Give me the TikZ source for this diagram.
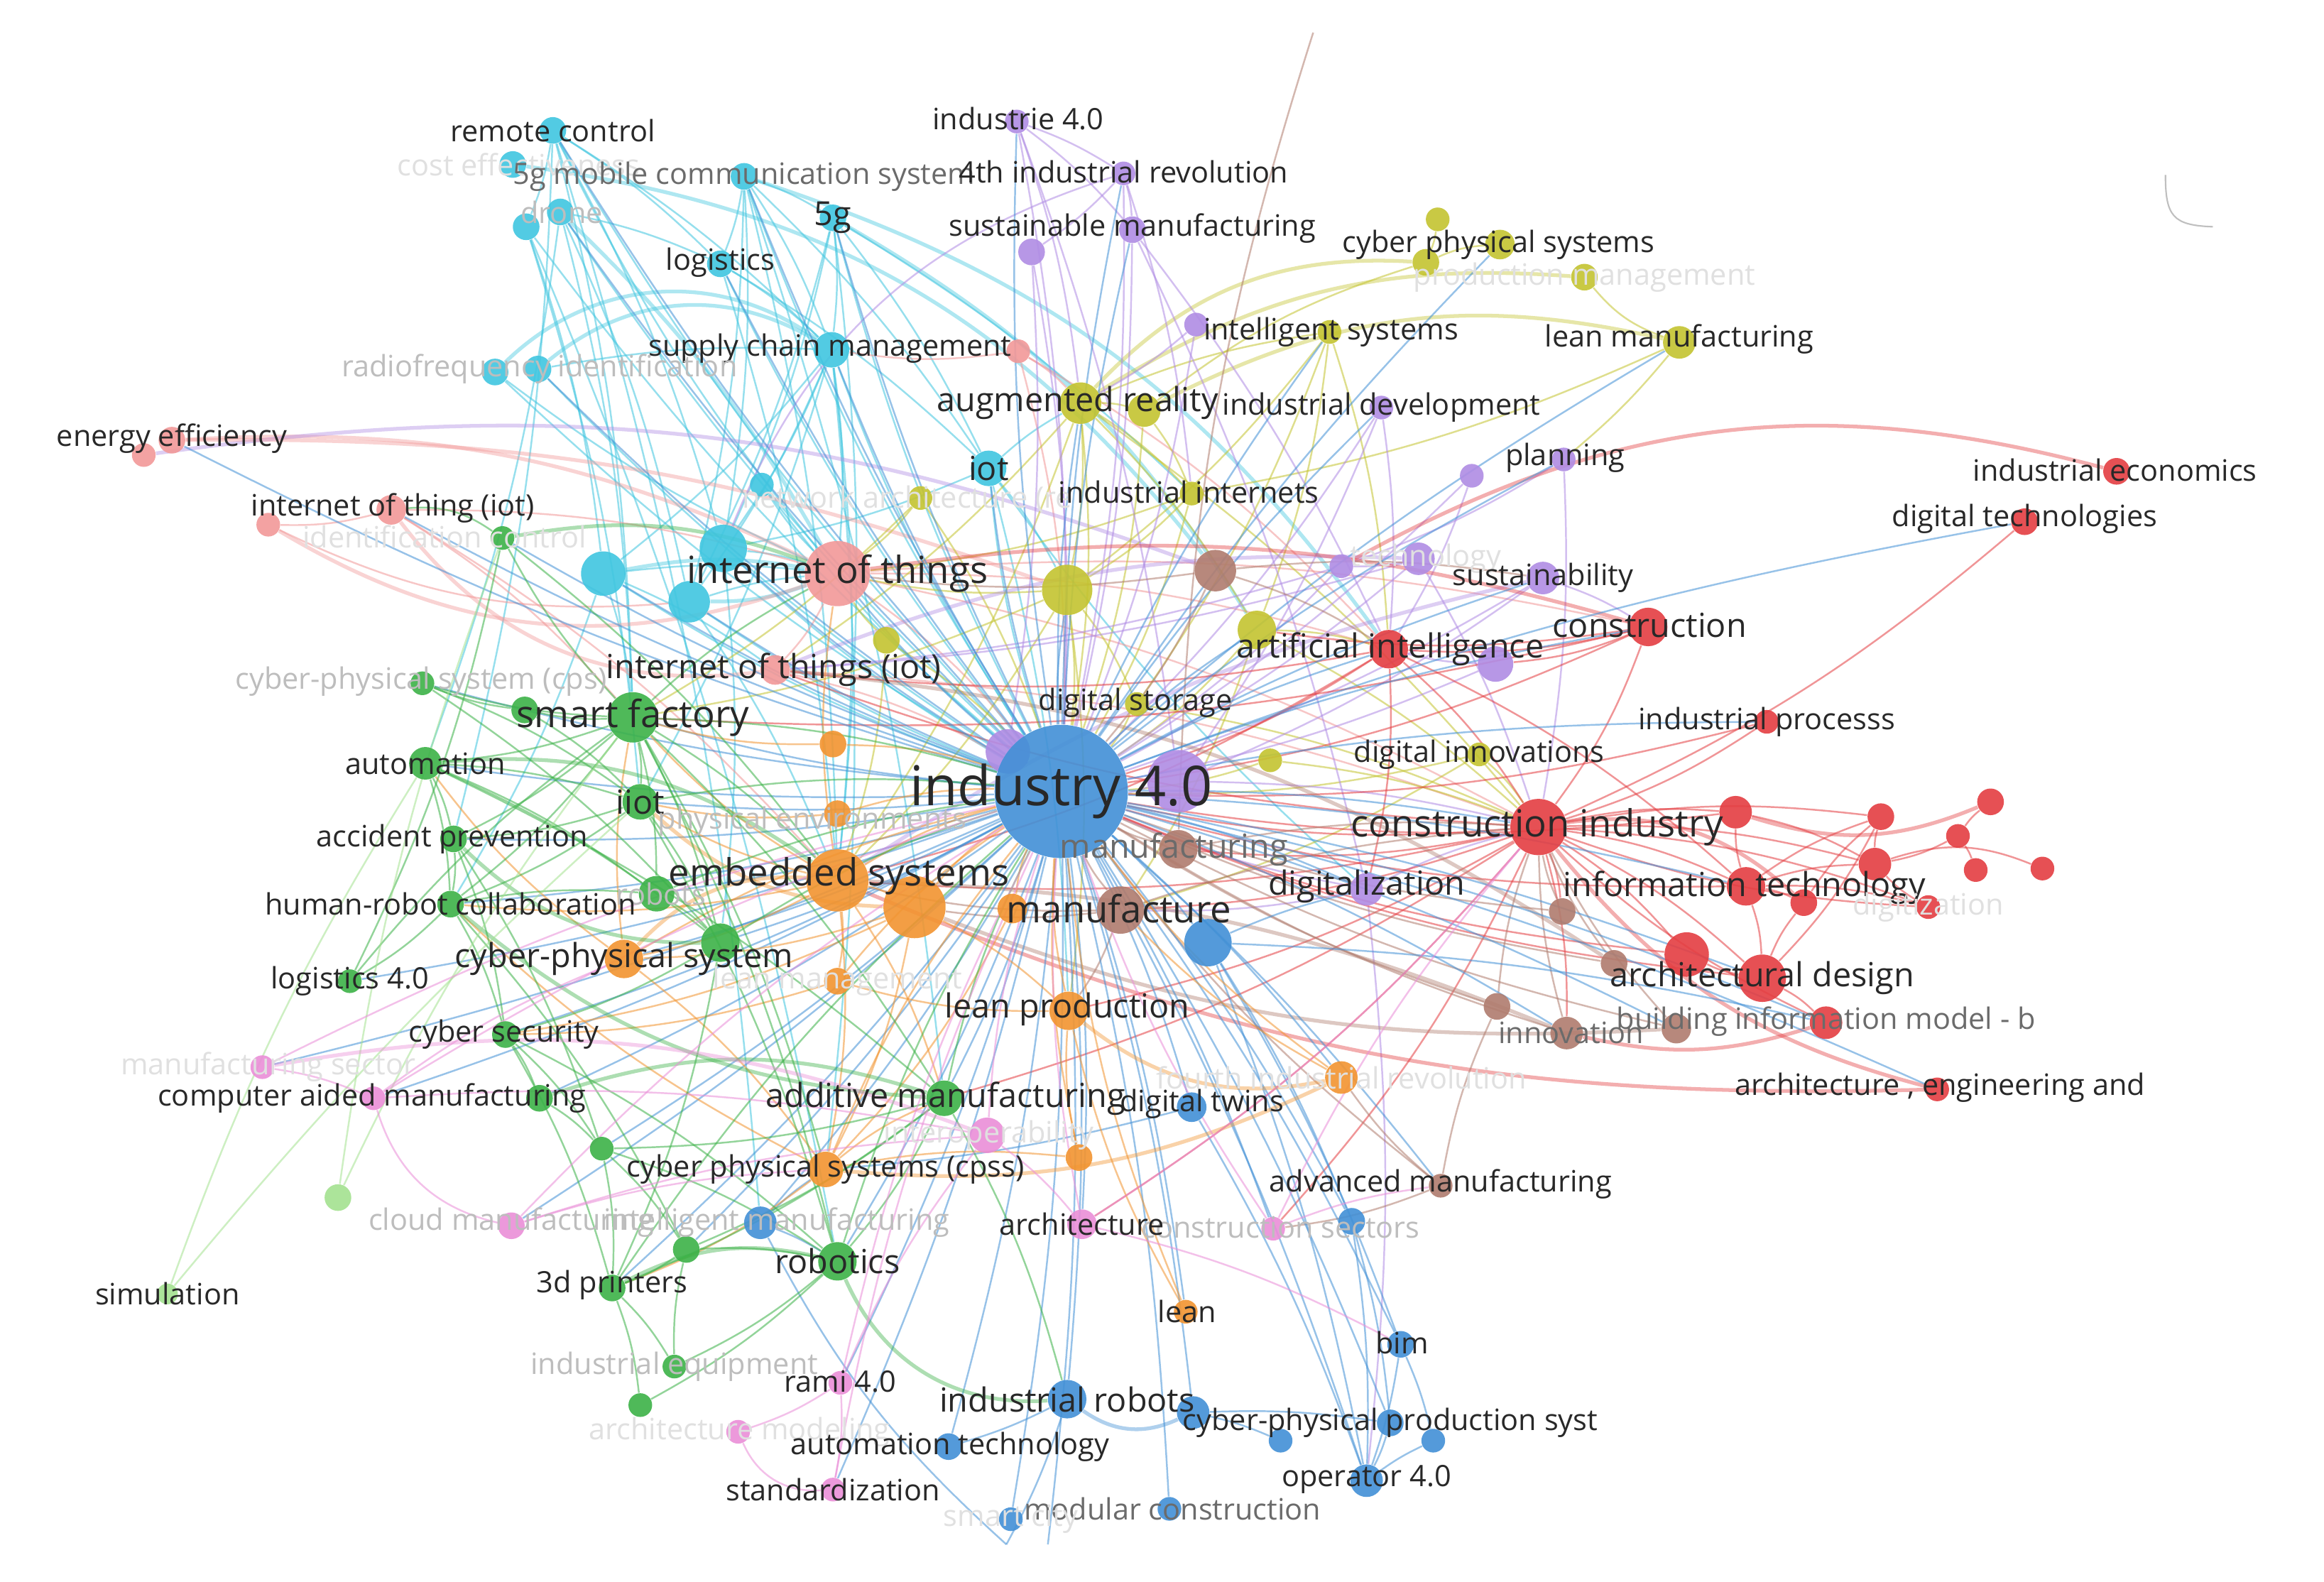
\documentclass[tikz,border=0pt]{standalone}
\usepackage{fontspec}
\setmainfont{Open Sans}
\pgfdeclarelayer{edgelayer}
\pgfdeclarelayer{labellayer}
\pgfsetlayers{edgelayer,main,labellayer}
\definecolor{cCy}{RGB}{64,198,224}
\definecolor{cSa}{RGB}{242,152,152}
\definecolor{cOl}{RGB}{196,196,48}
\definecolor{cPu}{RGB}{176,140,228}
\definecolor{cRd}{RGB}{228,62,66}
\definecolor{cBr}{RGB}{176,124,110}
\definecolor{cBl}{RGB}{66,144,214}
\definecolor{cOr}{RGB}{242,148,48}
\definecolor{cGr}{RGB}{60,178,72}
\definecolor{cPk}{RGB}{234,142,216}
\definecolor{cLg}{RGB}{164,226,144}
\definecolor{txt}{RGB}{40,40,40}
\tikzset{
  kdot/.style={circle,inner sep=0pt,draw=none,fill opacity=0.9},
  klab/.style={inner sep=0pt,text=txt,font=\fontsize{11.8}{13}\selectfont},
  s2/.style={font=\fontsize{13.3}{15}\selectfont},
  s3/.style={font=\fontsize{15}{17}\selectfont},
  s4/.style={font=\fontsize{22}{24}\selectfont},
  fa/.style={text=black!12},
  fl/.style={text=black!26},
  se/.style={text=black!58},
  ed/.style={draw=#1,draw opacity=0.55,line width=0.7pt},
  edw/.style={draw=#1,draw opacity=0.42,line width=1.5pt}
}
\newcommand\kwdot[5]{\node[kdot,minimum size={2*#4*0.5935pt},fill=#5] (#1) at (#2,#3) {};}
\newcommand\kwlab[5]{\begin{pgfonlayer}{labellayer}\node[klab,#4] (#1-l) at (#2,#3) {#5};\end{pgfonlayer}}
\begin{document}
\begin{tikzpicture}[x=0.020874cm,y=-0.020874cm]
\useasboundingbox (0,0) rectangle (1568,1067);
\begin{pgfonlayer}{edgelayer}
\fill[white] (0,0) rectangle (1568,1067);
\end{pgfonlayer}
% ---------- nodes ----------
% cyan
\kwdot{rc}{373}{88}{9}{cCy}
\kwdot{ce}{346}{111}{9}{cCy}
\kwdot{mcs}{502}{119}{9}{cCy}
\kwdot{dr}{378}{143}{9}{cCy}
\kwdot{dr2}{355}{153}{9}{cCy}
\kwdot{g5}{562}{147}{9}{cCy}
\kwdot{lg}{486}{178}{9}{cCy}
\kwdot{scm}{561}{236}{12}{cCy}
\kwdot{rf1}{334}{251}{9}{cCy}
\kwdot{rf}{363}{249}{9}{cCy}
\kwdot{iot}{667}{316}{12}{cCy}
\kwdot{na}{514}{327}{8}{cCy}
\kwdot{cb1}{488}{370}{16}{cCy}
\kwdot{cb2}{407}{387}{15}{cCy}
\kwdot{cb3}{465}{406}{14}{cCy}
% salmon
\kwdot{ee}{116}{297}{9}{cSa}
\kwdot{ee2}{97}{307}{8}{cSa}
\kwdot{iotg}{264}{344}{10}{cSa}
\kwdot{ic}{181}{354}{8}{cSa}
\kwdot{scmp}{687}{237}{8}{cSa}
\kwdot{ioth}{565}{387}{22}{cSa}
\kwdot{iotq}{523}{452}{10}{cSa}
% olive
\kwdot{ar}{729}{272}{14}{cOl}
\kwdot{ar2}{772}{277}{11}{cOl}
\kwdot{cps1}{970}{148}{8}{cOl}
\kwdot{cps2}{962}{177}{9}{cOl}
\kwdot{cps}{1012}{165}{10}{cOl}
\kwdot{pm}{1069}{187}{9}{cOl}
\kwdot{lm}{1133}{231}{11}{cOl}
\kwdot{is}{897}{224}{8}{cOl}
\kwdot{ii}{804}{333}{8}{cOl}
\kwdot{y1}{621}{336}{8}{cOl}
\kwdot{y2}{720}{398}{17}{cOl}
\kwdot{y3}{598}{432}{9}{cOl}
\kwdot{y4}{848}{425}{13}{cOl}
\kwdot{ds}{767}{475}{8}{cOl}
\kwdot{y5}{857}{513}{8}{cOl}
\kwdot{di}{998}{509}{8}{cOl}
% purple
\kwdot{ie}{686}{82}{8}{cPu}
\kwdot{fir}{758}{117}{8}{cPu}
\kwdot{sm1}{696}{170}{9}{cPu}
\kwdot{sm}{764}{155}{9}{cPu}
\kwdot{p1}{807}{219}{8}{cPu}
\kwdot{id}{932}{275}{8}{cPu}
\kwdot{pl1}{993}{321}{8}{cPu}
\kwdot{pl}{1055}{310}{8}{cPu}
\kwdot{tech}{957}{377}{11}{cPu}
\kwdot{p2}{905}{382}{8}{cPu}
\kwdot{sus}{1041}{390}{11}{cPu}
\kwdot{p3}{1009}{448}{12}{cPu}
\kwdot{p4}{795}{527}{21}{cPu}
\kwdot{p5}{680}{507}{15}{cPu}
\kwdot{dig}{922}{600}{11}{cPu}
% red
\kwdot{iec}{1428}{318}{9}{cRd}
\kwdot{dt}{1366}{352}{9}{cRd}
\kwdot{con}{1112}{423}{13}{cRd}
\kwdot{ai}{937}{438}{13}{cRd}
\kwdot{ip}{1192}{487}{8}{cRd}
\kwdot{ci}{1038}{558}{19}{cRd}
\kwdot{r1}{1171}{548}{11}{cRd}
\kwdot{r2}{1269}{551}{9}{cRd}
\kwdot{r3}{1343}{541}{9}{cRd}
\kwdot{r4}{1321}{564}{8}{cRd}
\kwdot{r5}{1378}{586}{8}{cRd}
\kwdot{r6}{1333}{587}{8}{cRd}
\kwdot{r7}{1265}{583}{11}{cRd}
\kwdot{r8}{1217}{609}{9}{cRd}
\kwdot{it}{1178}{598}{13}{cRd}
\kwdot{dgz}{1301}{612}{8}{cRd}
\kwdot{r9}{1138}{644}{15}{cRd}
\kwdot{ad}{1189}{660}{16}{cRd}
\kwdot{bim2}{1232}{690}{11}{cRd}
\kwdot{aec}{1307}{735}{8}{cRd}
% brown
\kwdot{b1}{820}{385}{14}{cBr}
\kwdot{mfg}{795}{573}{13}{cBr}
\kwdot{mf}{756}{614}{16}{cBr}
\kwdot{b2}{1054}{615}{9}{cBr}
\kwdot{b3}{1089}{650}{9}{cBr}
\kwdot{b4}{1010}{679}{9}{cBr}
\kwdot{inn}{1057}{697}{11}{cBr}
\kwdot{b5}{1131}{694}{10}{cBr}
\kwdot{am}{972}{800}{8}{cBr}
% orange
\kwdot{o1}{562}{502}{9}{cOr}
\kwdot{pe}{565}{549}{9}{cOr}
\kwdot{es}{565}{594}{21}{cOr}
\kwdot{o2}{617}{612}{21}{cOr}
\kwdot{o3}{683}{613}{10}{cOr}
\kwdot{cpsy}{421}{647}{13}{cOr}
\kwdot{lmg}{565}{662}{9}{cOr}
\kwdot{lp}{721}{682}{13}{cOr}
\kwdot{fir2}{905}{727}{11}{cOr}
\kwdot{cpss}{557}{789}{12}{cOr}
\kwdot{o4}{728}{781}{9}{cOr}
\kwdot{ln}{800}{885}{8}{cOr}
% green
\kwdot{g1}{339}{363}{8}{cGr}
\kwdot{cpsc}{285}{461}{8}{cGr}
\kwdot{sf1}{354}{479}{9}{cGr}
\kwdot{sf}{427}{484}{17}{cGr}
\kwdot{au}{287}{515}{11}{cGr}
\kwdot{iiot}{432}{541}{12}{cGr}
\kwdot{ap}{306}{566}{9}{cGr}
\kwdot{hrc}{304}{610}{9}{cGr}
\kwdot{rob}{443}{603}{12}{cGr}
\kwdot{g2}{486}{636}{13}{cGr}
\kwdot{l40}{236}{662}{8}{cGr}
\kwdot{cs}{341}{698}{9}{cGr}
\kwdot{cam}{364}{741}{9}{cGr}
\kwdot{adm}{637}{741}{12}{cGr}
\kwdot{g3}{406}{775}{8}{cGr}
\kwdot{lg1}{228}{808}{9}{cLg}
\kwdot{g4}{463}{843}{9}{cGr}
\kwdot{robo}{565}{851}{13}{cGr}
\kwdot{p3d}{413}{869}{9}{cGr}
\kwdot{ieq}{455}{922}{8}{cGr}
\kwdot{g5n}{432}{948}{8}{cGr}
\kwdot{sim}{113}{873}{7}{cLg}
% pink
\kwdot{ms}{177}{720}{8}{cPk}
\kwdot{camp}{252}{741}{8}{cPk}
\kwdot{cm}{345}{827}{9}{cPk}
\kwdot{io}{666}{766}{12}{cPk}
\kwdot{arc}{730}{826}{10}{cPk}
\kwdot{cse}{859}{829}{8}{cPk}
\kwdot{rami}{567}{933}{8}{cPk}
\kwdot{amod}{498}{966}{8}{cPk}
\kwdot{std}{562}{1005}{8}{cPk}
% blue
\kwdot{bl1}{815}{636}{16}{cBl}
\kwdot{dtw}{804}{747}{10}{cBl}
\kwdot{im}{513}{825}{11}{cBl}
\kwdot{bl2}{912}{824}{9}{cBl}
\kwdot{bim}{945}{907}{9}{cBl}
\kwdot{ir}{720}{944}{13}{cBl}
\kwdot{bl3}{805}{953}{11}{cBl}
\kwdot{cpp}{938}{960}{9}{cBl}
\kwdot{bl4}{864}{972}{8}{cBl}
\kwdot{bl5}{967}{972}{8}{cBl}
\kwdot{at}{640}{976}{9}{cBl}
\kwdot{op}{922}{999}{11}{cBl}
\kwdot{mc}{789}{1018}{8}{cBl}
\kwdot{sc}{682}{1025}{8}{cBl}
\kwdot{i40}{716}{534}{45}{cBl}
\coordinate (offt) at (886,22);
\coordinate (offb1) at (707,1042);
\coordinate (offb2) at (679,1042);
% ---------- edges ----------
\begin{pgfonlayer}{edgelayer}
% cyan
\foreach \a/\b in {rc/dr2,rc/lg,rc/scm,rc/cb1,mcs/scm,mcs/g5,mcs/lg,mcs/cb1,mcs/cb3,g5/scm,g5/cb1,g5/cb3,lg/scm,dr/cb3,dr2/cb2,scm/cb1,scm/cb2,scm/cb3,rf/scm,iot/cb1,cb1/ioth,cb2/ioth,cb3/ioth,cb2/sf,cb3/es,cb2/iotq,dr/lg,mcs/iot,g5/iot,lg/iot,scm/ioth,g5/ii,rc/im,dr2/robo,mcs/adm,scm/cpss,iot/lp,rc/sf,dr2/iiot,dr/sf,mcs/es,lg/es,g5/es,scm/es,scm/iiot,rc/ap,dr/au,cb2/hrc,cb1/g2,iot/ar,iot/y2}
  {\draw[ed=cCy] (\a) to[bend left=6] (\b);}
\foreach \a/\b in {mcs/i40,g5/i40,lg/i40,dr/i40,scm/i40,rf/i40,iot/i40,na/i40,cb1/i40,cb2/i40,cb3/i40,rc/i40,rf1/ioth,rc/ioth,iot/dig,na/ioth,dr2/i40,rf1/i40}
  {\draw[ed=cCy] (\a) to[bend right=6] (\b);}
\draw[edw=cCy] (rf1) to[bend left=40] (scm);
\draw[edw=cCy] (rf) to[bend left=35] (scm);
\draw[edw=cCy] (ce) to[bend left=22] (b1);
\draw[edw=cCy] (dr) to[bend left=8] (ioth);
\draw[edw=cCy] (g5) to[bend left=14] (y4);
\draw[edw=cCy] (mcs) to[bend left=18] (ai);
\draw[edw=cCy] (cb2) to[bend left=10] (ioth);
\draw[edw=cCy] (cb3) to[bend right=10] (ioth);
% salmon
\foreach \a/\b in {iotg/ioth,iotg/ic,iotg/es,ioth/i40,ioth/iotq,ioth/ai,ioth/con,scmp/ar,scmp/ai,iotq/i40,iotq/ci,ioth/ci,scmp/i40,iotg/sf,scmp/scm}
  {\draw[ed=cSa] (\a) to[bend left=8] (\b);}
\draw[edw=cSa] (ee) to[bend left=14] (ioth);
\draw[edw=cSa] (ic) to[bend right=25] (ioth);
\draw[edw=cSa] (iotg) to[bend right=30] (iotq);
\draw[ed=cSa] (ic) to[bend right=15] (cb3);
\draw[edw=cPu] (ee2) to[bend left=14] (b1);
\draw[edw=cSa] (ee) to[bend left=10] (y2);
% olive
\foreach \a/\b in {ar/i40,ar/ar2,ar/is,ar/y2,ar/ii,ar/ci,ar/y4,ar2/i40,ar2/ii,cps1/cps2,is/ai,is/y2,is/y4,ii/i40,ii/y2,y1/i40,y1/ioth,y2/i40,y2/ioth,y2/ds,y3/i40,y3/ioth,y4/i40,y4/ci,y4/ai,ds/i40,y5/i40,y5/ci,di/ci,di/i40,y2/es,ar/es,y2/sf,ds/ci,ar/iotq,y2/lp,y3/es,is/ds,lm/ii,y1/sf,y4/mf,di/mf,ii/ioth}
  {\draw[ed=cOl] (\a) to[bend left=7] (\b);}
\draw[edw=cOl] (ar) to[bend left=25] (cps2);
\draw[edw=cOl] (ar) to[bend left=18] (pm);
\draw[ed=cOl] (cps2) to[bend left=10] (cps);
\draw[ed=cOl] (pm) to[bend right=15] (lm);
\draw[ed=cOl] (lm) to[bend left=5] (pl);
\draw[edw=cOl] (ar2) to[bend left=20] (lm);
\draw[ed=cOl] (cps2) to[bend right=10] (ar2);
% purple
\foreach \a/\b in {ie/fir,ie/sm,ie/i40,ie/p4,fir/sm1,fir/sm,fir/i40,sm/i40,sm/ai,sm1/i40,sm1/p5,p1/i40,p1/ar,id/i40,id/p4,id/ai,pl1/i40,pl/p2,pl/ci,tech/p2,tech/i40,tech/ci,p2/i40,sus/i40,sus/p4,sus/con,p3/ai,p3/i40,p4/i40,p5/i40,dig/i40,dig/ci,dig/mf,p4/ci,ie/ar,fir/ii,p2/iotq,pl1/ai,tech/iotq,sm/dig}
  {\draw[ed=cPu] (\a) to[bend left=6] (\b);}
\draw[ed=cPu] (fir) to[bend right=25] (cb1);
\draw[ed=cPu] (dig) to[bend left=6] (op);
\draw[edw=cPu] (sus) to[bend right=10] (es);
\draw[edw=cPu] (tech) to[bend right=12] (iotq);
% red
\foreach \a/\b in {dt/ci,con/ai,con/ci,con/i40,con/y4,ai/i40,ai/ci,ai/it,ai/iotq,ip/ci,ip/i40,ci/i40,ci/r1,ci/it,ci/r9,ci/ad,ci/mf,ci/r2,ci/r7,ci/dgz,ci/b2,ci/inn,ci/mfg,ci/lp,ci/iotq,it/r1,it/r2,it/r7,it/r8,it/ad,it/dgz,r7/r2,r4/r3,r4/r6,r4/r7,r1/r7,ad/r9,ad/bim2,ad/r8,bim2/ci,r9/i40,it/i40,ad/i40,ci/arc,ci/cse,ci/es,ci/adm,dgz/r7,r8/r2,r2/ad,ai/dig,con/p3,r1/i40,dgz/ci,ai/es,con/sf}
  {\draw[ed=cRd] (\a) to[bend left=8] (\b);}
\draw[edw=cRd] (iec) to[bend right=22] (p2);
\draw[edw=cRd] (con) to[bend right=12] (ioth);
\draw[edw=cRd] (aec) to[bend left=18] (ci);
\draw[edw=cRd] (aec) to[bend left=12] (es);
\draw[edw=cRd] (bim2) to[bend left=15] (inn);
\draw[edw=cRd] (ci) to[bend left=25] (r8);
\draw[edw=cRd] (r1) to[bend right=20] (r3);
\draw[ed=cRd] (r7) to[bend left=20] (r5);
% brown
\foreach \a/\b in {b1/i40,b1/ai,b1/ioth,mfg/i40,mfg/ci,mf/i40,mf/ci,mf/es,mf/lp,b2/ci,b3/ci,b4/ci,inn/ci,inn/i40,b5/ci,am/b4,am/i40,am/cse,b5/i40,b3/i40,b4/i40,b1/sus,mf/o2,am/fir2,b2/i40}
  {\draw[ed=cBr] (\a) to[bend left=7] (\b);}
\draw[edw=cBr] (inn) to[bend right=10] (es);
\draw[edw=cBr] (b5) to[bend left=12] (o2);
\draw[edw=cBr] (b3) to[bend right=14] (iotq);
\draw[ed=cBr] (offt) to[bend right=8] (mfg);
% blue
\foreach \a/\b in {i40/bl1,i40/dtw,i40/im,i40/bl2,i40/bim,i40/ir,i40/bl3,i40/cpp,i40/at,i40/op,i40/mc,i40/sc,bl1/bim,bl1/bl2,bl1/op,ir/at,bl3/cpp,bl3/bl4,cpp/op,bim/op,bim/bl5,op/bl5,bl2/op,im/cpss,im/robo,i40/offb1,ir/offb2,i40/ln,i40/ar,i40/cs,i40/camp,i40/au,i40/hrc,i40/ap,i40/l40,i40/g3,i40/p3d,i40/g4,i40/mcs,i40/sm,i40/id,i40/pl,i40/sus,i40/dig,i40/ci,i40/it,i40/ad,i40/bim2,i40/con,i40/inn,i40/b5,i40/am,i40/fir2,i40/cse,i40/arc,i40/std,i40/rami,i40/cm,i40/ms,i40/sf,i40/cpsc,i40/g1,i40/iotg,i40/rc,i40/scm,i40/iot,i40/rf,bl1/dig,dtw/cpss,i40/ai,i40/lm,i40/is,i40/cps,i40/ip,i40/dt,i40/aec,i40/ioth,i40/cb2,i40/iiot,i40/cpsy,i40/robo,i40/adm,i40/ie,i40/fir,i40/g5,i40/lg,i40/dr,i40/ee,dtw/op,bl1/bim2,bl2/cpp,i40/rob,i40/g2,i40/cam,i40/cb1,i40/cb3,i40/y2,i40/y4}
  {\draw[ed=cBl] (\a) to[bend left=5] (\b);}
\draw[edw=cBl] (ir) to[bend right=30] (bl3);
\draw[ed=cBl] (im) to[bend right=10] (offb2);
% orange
\foreach \a/\b in {o1/i40,pe/i40,es/i40,o2/i40,o3/i40,cpsy/i40,lmg/i40,lp/i40,fir2/i40,cpss/i40,o4/i40,ln/i40,es/o2,es/cpsy,es/sf,es/iiot,es/ioth,es/lmg,es/cpss,o2/cpsy,o2/lp,o2/cpss,cpsy/cpss,cpsy/sf,lp/lmg,fir2/mf,cpss/o4,cpss/adm,cpss/p3d,o4/lp,ln/lp,cpss/hrc,es/adm,o1/sf,pe/iiot,cpsy/au,es/hrc,lmg/cs,o3/cpss,o2/cs}
  {\draw[ed=cOr] (\a) to[bend left=8] (\b);}
\draw[edw=cOr] (fir2) to[bend left=25] (lp);
\draw[edw=cOr] (fir2) to[bend left=15] (cpss);
\draw[edw=cOr] (es) to[bend right=25] (cpsy);
\draw[edw=cOr] (o2) to[bend left=20] (iiot);
% green
\foreach \a/\b in {sf/i40,sf/sf1,sf/au,sf/iiot,sf/g1,sf/cpsc,sf/es,sf/hrc,sf/rob,sf/g2,sf/ioth,sf/adm,sf/robo,sf/ap,sf1/cpsc,g1/l40,au/iiot,au/ap,au/hrc,au/rob,au/adm,iiot/i40,iiot/ap,iiot/hrc,iiot/g2,ap/hrc,ap/cs,hrc/rob,hrc/l40,hrc/cs,rob/i40,rob/g2,g2/i40,g2/cs,g2/p3d,l40/sf,cs/cam,cs/g3,cs/p3d,adm/i40,adm/g3,adm/robo,adm/p3d,adm/g4,g3/g4,g3/p3d,g4/robo,g4/p3d,robo/i40,robo/ieq,robo/g5n,p3d/ieq,p3d/g5n,p3d/i40,ieq/g4,adm/ir,au/g2,iiot/robo,cpsc/g2,g1/es,sf/cpss,cam/g3,g3/robo,sf1/iiot,cpsc/iiot,ap/g3,hrc/g4,cs/robo}
  {\draw[ed=cGr] (\a) to[bend left=7] (\b);}
\draw[edw=cGr] (g1) to[bend left=15] (ioth);
\draw[edw=cGr] (cam) to[bend left=18] (adm);
\draw[edw=cGr] (robo) to[bend right=35] (ir);
\draw[edw=cGr] (p3d) to[bend left=20] (robo);
\draw[edw=cGr] (ap) to[bend right=22] (g2);
\draw[edw=cGr] (au) to[bend left=20] (es);
\draw[edw=cGr] (hrc) to[bend right=18] (adm);
\draw[ed=cGr] (g1) to[bend right=20] (iotg);
\draw[ed=cLg] (lg1) to[bend left=6] (sf);
\draw[ed=cLg] (lg1) to[bend left=6] (g1);
\draw[ed=cLg] (sim) to[bend left=4] (iiot);
\draw[ed=cLg] (sim) to[bend left=6] (au);
% pink
\foreach \a/\b in {ms/camp,camp/io,camp/i40,cm/io,io/i40,io/arc,arc/i40,cse/i40,cse/am,rami/amod,rami/std,rami/i40,rami/io,std/i40,camp/cpsy,ms/i40,cm/cpss,cse/ci,arc/bim,cm/i40}
  {\draw[ed=cPk] (\a) to[bend left=7] (\b);}
\draw[edw=cPk] (ms) to[bend left=15] (io);
\draw[ed=cPk] (camp) to[bend right=30] (cm);
\draw[ed=cPk] (amod) to[bend right=35] (std);
\draw[ed=cPk] (arc) to[bend right=8] (ci);
\end{pgfonlayer}
% top-right artifact
\draw[black!25,line width=0.6pt] (1461,118) .. controls (1461,146) and (1466,152) .. (1493,153);
% ---------- labels ----------
\kwlab{rc}{373}{88}{}{remote control}
\kwlab{ce}{350}{111}{fa}{cost effectiveness}
\kwlab{mcs}{502}{119}{se}{5g mobile communication system}
\kwlab{dr}{379}{143}{fl}{drone}
\kwlab{g5}{562}{147}{s2}{5g}
\kwlab{lg}{486}{177}{}{logistics}
\kwlab{scm}{560}{235}{}{supply chain management}
\kwlab{rf}{364}{249}{fl}{radiofrequency identification}
\kwlab{iot}{667}{316}{s2}{iot}
\kwlab{na}{612}{337}{fa}{network architecture (re}
\kwlab{ee}{116}{296}{}{energy efficiency}
\kwlab{iotg}{265}{343}{}{internet of thing (iot)}
\kwlab{ic}{300}{362}{fa}{identification control}
\kwlab{ioth}{565}{387}{s3}{internet of things}
\kwlab{iotq}{522}{452}{s2}{internet of things (iot)}
\kwlab{ie}{687}{80}{}{industrie 4.0}
\kwlab{fir}{758}{116}{}{4th industrial revolution}
\kwlab{sm}{764}{154}{}{sustainable manufacturing}
\kwlab{cps}{1011}{165}{}{cyber physical systems}
\kwlab{pm}{1069}{187}{fa}{production management}
\kwlab{is}{898}{224}{}{intelligent systems}
\kwlab{lm}{1133}{229}{}{lean manufacturing}
\kwlab{ar}{727}{272}{s2}{augmented reality}
\kwlab{id}{932}{275}{}{industrial development}
\kwlab{pl}{1056}{309}{}{planning}
\kwlab{ii}{802}{332}{}{industrial internets}
\kwlab{iec}{1427}{317}{}{industrial economics}
\kwlab{dt}{1366}{350}{}{digital technologies}
\kwlab{tech}{962}{377}{fa}{technology}
\kwlab{sus}{1041}{390}{}{sustainability}
\kwlab{con}{1113}{422}{s2}{construction}
\kwlab{ai}{938}{438}{s2}{artificial intelligence}
\kwlab{ds}{766}{474}{}{digital storage}
\kwlab{ip}{1192}{487}{}{industrial processs}
\kwlab{di}{998}{509}{}{digital innovations}
\kwlab{cpsc}{284}{460}{fl}{cyber-physical system (cps)}
\kwlab{sf}{427}{484}{s3}{smart factory}
\kwlab{au}{287}{515}{}{automation}
\kwlab{iiot}{432}{541}{s2}{iiot}
\kwlab{pe}{548}{554}{fl}{physical environments}
\kwlab{ap}{305}{566}{}{accident prevention}
\kwlab{rob}{446}{603}{fl}{robots}
\kwlab{hrc}{304}{610}{}{human-robot collaboration}
\kwlab{es}{566}{591}{s3}{embedded systems}
\kwlab{i40}{716}{534}{s4}{industry 4.0}
\kwlab{mfg}{792}{573}{s2,se}{manufacturing}
\kwlab{mf}{755}{613}{s3}{manufacture}
\kwlab{dig}{922}{598}{s2}{digitalization}
\kwlab{ci}{1037}{558}{s3}{construction industry}
\kwlab{it}{1177}{599}{s2}{information technology}
\kwlab{dgz}{1301}{612}{fa}{digitization}
\kwlab{ad}{1189}{660}{s2}{architectural design}
\kwlab{bim2}{1232}{689}{se}{building information model - b}
\kwlab{inn}{1060}{697}{se}{innovation}
\kwlab{aec}{1309}{734}{}{architecture , engineering and}
\kwlab{cpsy}{421}{647}{s2}{cyber-physical system}
\kwlab{l40}{236}{662}{}{logistics 4.0}
\kwlab{lmg}{565}{662}{fa}{lean management}
\kwlab{lp}{720}{681}{s2}{lean production}
\kwlab{cs}{340}{698}{}{cyber security}
\kwlab{ms}{181}{720}{fa}{manufacturing sector}
\kwlab{fir2}{905}{727}{fa}{fourth industrial revolution}
\kwlab{camp}{251}{741}{}{computer aided manufacturing}
\kwlab{dtw}{811}{745}{}{digital twins}
\kwlab{adm}{638}{741}{s2}{additive manufacturing}
\kwlab{io}{667}{766}{fa}{interoperability}
\kwlab{cpss}{557}{789}{}{cyber physical systems (cpss)}
\kwlab{am}{972}{799}{}{advanced manufacturing}
\kwlab{cm}{345}{825}{fl}{cloud manufacturing}
\kwlab{im}{524}{825}{fl}{intelligent manufacturing}
\kwlab{cse}{864}{828}{fl}{construction sectors}
\kwlab{arc}{730}{826}{}{architecture}
\kwlab{robo}{565}{851}{s2}{robotics}
\kwlab{p3d}{413}{867}{}{3d printers}
\kwlab{sim}{113}{873}{}{simulation}
\kwlab{ln}{801}{885}{}{lean}
\kwlab{bim}{946}{906}{}{bim}
\kwlab{ieq}{455}{922}{fl}{industrial equipment}
\kwlab{rami}{567}{932}{}{rami 4.0}
\kwlab{ir}{720}{944}{s2}{industrial robots}
\kwlab{cpp}{938}{960}{}{cyber-physical production syst}
\kwlab{amod}{499}{966}{fa}{architecture modeling}
\kwlab{at}{641}{976}{}{automation technology}
\kwlab{op}{922}{998}{}{operator 4.0}
\kwlab{std}{562}{1005}{}{standardization}
\kwlab{mc}{791}{1018}{se}{modular construction}
\kwlab{sc}{682}{1025}{fa}{smart city}
\end{tikzpicture}
\end{document}
